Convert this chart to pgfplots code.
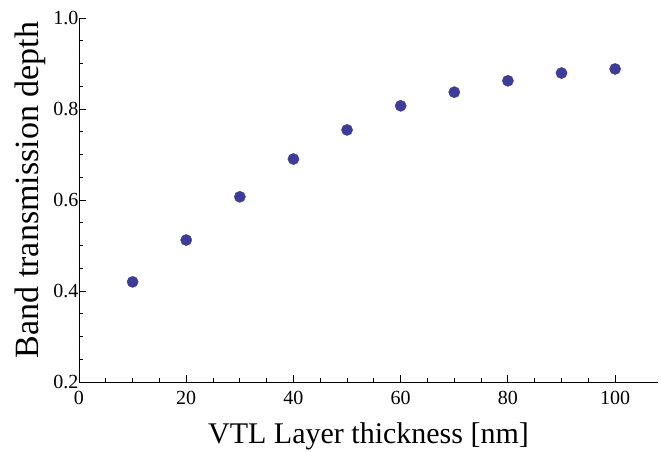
\documentclass[border=0pt]{standalone}
\usepackage{fontspec}
\setmainfont{Liberation Serif}
\usepackage{pgfplots}
\pgfplotsset{compat=1.18}
\usetikzlibrary{calc}
\definecolor{mmablue}{rgb}{0.24,0.24,0.6}

\begin{document}
\begin{tikzpicture}
\begin{axis}[
  scale only axis,
  width=579pt, height=364pt,
  xmin=0, xmax=108,
  ymin=0.2, ymax=1.0,
  axis x line*=bottom,
  axis y line*=left,
  axis line style={black, line width=0.8pt},
  xtick={0,20,...,100},
  ytick={0.2,0.4,...,1.0},
  minor x tick num=3,
  minor y tick num=3,
  tick align=inside,
  major tick length=7pt,
  minor tick length=4pt,
  tick style={black, line width=0.8pt},
  /pgf/number format/assume math mode=true,
  yticklabel style={/pgf/number format/fixed, /pgf/number format/fixed zerofill,
    /pgf/number format/precision=1},
  ticklabel style={font=\fontsize{20}{22}\selectfont},
  xticklabel style={yshift=-6pt},
  yticklabel style={xshift=3pt},
  xlabel={VTL Layer thickness [nm]},
  ylabel={Band transmission depth},
  xlabel style={font=\fontsize{30}{33}\selectfont, yshift=-11pt},
  ylabel style={font=\fontsize{34}{37}\selectfont, yshift=1pt, xshift=10pt},
  clip=false,
]
\addplot[only marks, mark=*, mark size=5.6pt, color=mmablue] coordinates {
  (10, 0.420)
  (20, 0.512)
  (30, 0.607)
  (40, 0.690)
  (50, 0.754)
  (60, 0.807)
  (70, 0.837)
  (80, 0.862)
  (90, 0.879)
  (100, 0.888)
};
\end{axis}
\pgfresetboundingbox
\path ($(current axis.south west)+(-79pt,-70pt)$) rectangle ($(current axis.north east)+(3pt,18pt)$);
\end{tikzpicture}
\end{document}
